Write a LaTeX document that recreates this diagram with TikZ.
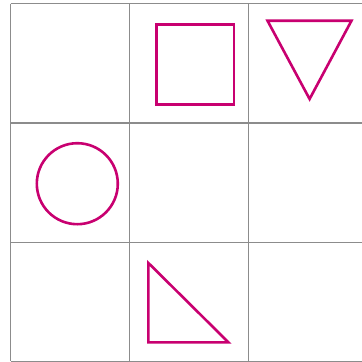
\documentclass[tikz,border=0pt]{standalone}
\definecolor{shapecol}{RGB}{200,0,112}
\definecolor{gridcol}{RGB}{140,140,140}
\begin{document}
\begin{tikzpicture}[x=1pt,y=-1pt,
  gridline/.style={draw=gridcol,line width=1.1pt},
  shapeline/.style={draw=shapecol,line width=2.6pt,line join=miter}]
\useasboundingbox (0,0) rectangle (362,362);
\clip (0,0) rectangle (362,362);
% grid
\foreach \x in {10.7,129.5,248.5,367.5}
  \draw[gridline] (\x,3.7) -- (\x,361.3);
\foreach \y in {3.7,123,242.3,361.3}
  \draw[gridline] (10.7,\y) -- (367.5,\y);
% square
\draw[shapeline] (156.3,24.7) rectangle (234,104.7);
% inverted triangle
\draw[shapeline] (267.5,20.7) -- (351.5,20.7) -- (309.6,99) -- cycle;
% circle
\draw[shapeline] (77.3,183.7) circle (40.5);
% right triangle
\draw[shapeline] (148.4,263) -- (148.4,342.4) -- (228.5,342.4) -- cycle;
\end{tikzpicture}
\end{document}
